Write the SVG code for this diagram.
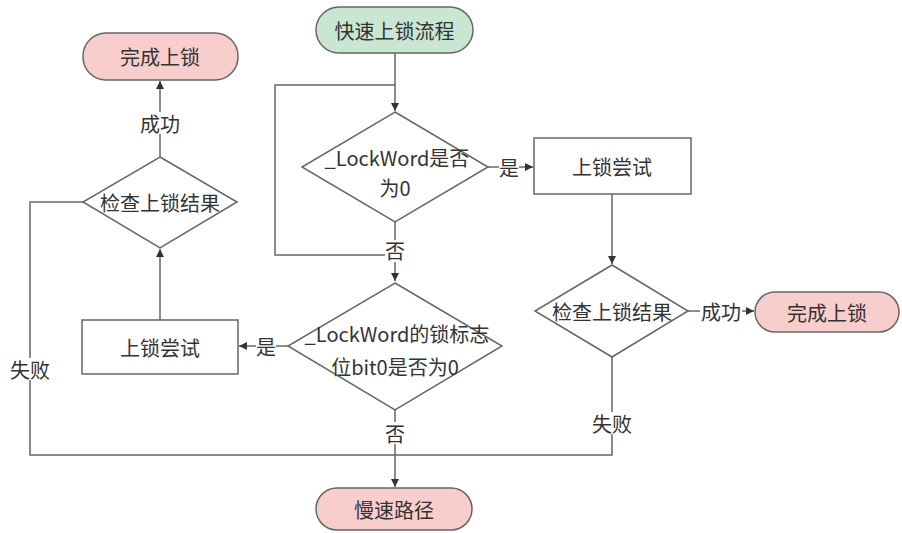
<svg xmlns="http://www.w3.org/2000/svg" width="902" height="533" viewBox="0 0 902 533">
<style>
.t{font-family:"Microsoft YaHei","Noto Sans CJK SC",sans-serif;font-size:20px;fill:#333;text-anchor:middle;dominant-baseline:central}
.n{stroke:#666;stroke-width:1.5;fill:#fff}
.pink{fill:#f8cecc}
.green{fill:#c8e6d2}
.c{stroke:#666;stroke-width:1.5;fill:none}
.a{marker-end:url(#ah)}
.lb{fill:#fff}
</style>
<defs>
<marker id="ah" markerWidth="10" markerHeight="10" refX="8" refY="5" orient="auto" markerUnits="userSpaceOnUse">
<path d="M0,1 L8,5 L0,9 Z" fill="#333"/>
</marker>
</defs>
<rect width="902" height="533" fill="#fff"/>
<g id="connectors">
<path class="c a" d="M395,53 V111"/>
<path class="c a" d="M395,222 V281"/>
<path class="c" d="M395,255 H275 V85 H395"/>
<path class="c a" d="M488,167 H533"/>
<path class="c a" d="M612,194 V264"/>
<path class="c a" d="M688,311 H754"/>
<path class="c a" d="M288,346 H239"/>
<path class="c a" d="M160,320 V249"/>
<path class="c a" d="M160,157 V81"/>
<path class="c" d="M83,202 H30 V455 H612 V357"/>
<path class="c a" d="M395,410 V487"/>
<rect class="lb" x="499" y="156" width="20" height="22"/>
<text class="t" x="509" y="167">是</text>
<rect class="lb" x="700" y="300" width="42" height="22"/>
<text class="t" x="721" y="311">成功</text>
<rect class="lb" x="256" y="335" width="20" height="22"/>
<text class="t" x="266" y="346">是</text>
<rect class="lb" x="139" y="112" width="42" height="22"/>
<text class="t" x="160" y="123">成功</text>
<rect class="lb" x="9" y="358" width="42" height="22"/>
<text class="t" x="30" y="369">失败</text>
<rect class="lb" x="591" y="412" width="42" height="22"/>
<text class="t" x="612" y="423">失败</text>
<rect class="lb" x="385" y="240" width="20" height="22"/>
<text class="t" x="395" y="250">否</text>
<rect class="lb" x="385" y="422" width="20" height="22"/>
<text class="t" x="395" y="433">否</text>
</g>
<g id="start">
<rect class="n green" x="316" y="7" width="157" height="46" rx="23"/>
<text class="t" x="394.5" y="30">快速上锁流程</text>
</g>
<g id="check1">
<polygon class="n" points="395,112 488,167 395,222 302,167"/>
<text class="t" x="397" y="157">_LockWord是否</text>
<text class="t" x="395" y="187">为0</text>
</g>
<g id="try_right">
<rect class="n" x="534" y="138" width="157" height="56"/>
<text class="t" x="612" y="166">上锁尝试</text>
</g>
<g id="result_right">
<polygon class="n" points="612,265 688,311 612,357 535,311"/>
<text class="t" x="612" y="311">检查上锁结果</text>
</g>
<g id="done_right">
<rect class="n pink" x="755" y="292" width="144" height="40" rx="20"/>
<text class="t" x="827" y="312">完成上锁</text>
</g>
<g id="check2">
<polygon class="n" points="395,283 502,346 395,410 288,346"/>
<text class="t" x="397" y="333">_LockWord的锁标志</text>
<text class="t" x="395" y="366">位bit0是否为0</text>
</g>
<g id="try_left">
<rect class="n" x="82" y="320" width="156" height="54"/>
<text class="t" x="160" y="347">上锁尝试</text>
</g>
<g id="result_left">
<polygon class="n" points="160,157 237,202 160,248 83,202"/>
<text class="t" x="160" y="202">检查上锁结果</text>
</g>
<g id="done_left">
<rect class="n pink" x="83" y="33" width="155" height="47" rx="23"/>
<text class="t" x="160" y="56">完成上锁</text>
</g>
<g id="slow">
<rect class="n pink" x="316" y="488" width="156" height="42" rx="21"/>
<text class="t" x="394" y="509">慢速路径</text>
</g>
</svg>
